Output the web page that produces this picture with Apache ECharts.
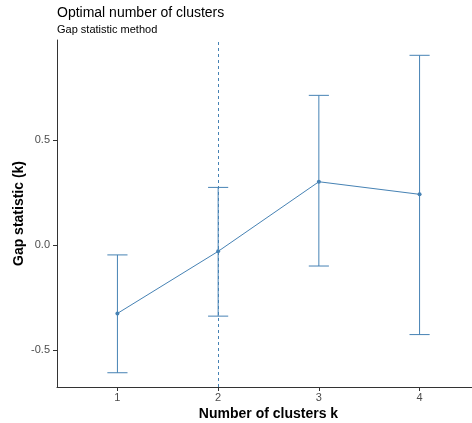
<!DOCTYPE html>
<html>
<head>
<meta charset="utf-8">
<script src="https://cdn.jsdelivr.net/npm/echarts@6/dist/echarts.min.js"></script>
<style>html,body{margin:0;padding:0;background:#fff;overflow:hidden}#c{width:472px;height:423px}</style>
</head>
<body>
<div id="c"></div>
<script>
var clusters = [1, 2, 3, 4];
var gapValues = [-0.325, -0.029, 0.303, 0.243];
var gapLower = [-0.608, -0.338, -0.099, -0.426];
var gapUpper = [-0.046, 0.276, 0.715, 0.906];
var yTicks = [-0.5, 0.0, 0.5];
var optimalK = 2;

var color = '#4682B4';
var font = 'Liberation Sans, Arial, sans-serif';

var lineData = clusters.map(function (k, i) { return [k, gapValues[i]]; });
var errData = clusters.map(function (k, i) { return [k, gapLower[i], gapUpper[i]]; });

var chart = echarts.init(document.getElementById('c'), null, {renderer: 'canvas'});
chart.setOption({
  animation: false,
  backgroundColor: '#fff',
  textStyle: {fontFamily: font},
  title: [
    {text: 'Optimal number of clusters', left: 57, top: 6, padding: 0,
     textStyle: {fontSize: 14, fontWeight: 'normal', color: '#000', fontFamily: font}},
    {text: 'Gap statistic method', left: 57, top: 24, padding: 0,
     textStyle: {fontSize: 11, fontWeight: 'normal', color: '#000', fontFamily: font}}
  ],
  grid: {left: 57, top: 40, width: 423, bottom: 36, containLabel: false, outerBoundsMode: 'none'},
  xAxis: {
    type: 'value', min: 0.4, max: 4.6,
    name: 'Number of clusters k', nameLocation: 'middle', nameGap: 20, nameMoveOverlap: false,
    nameTextStyle: {fontSize: 14, fontWeight: 'bold', color: '#000', fontFamily: font},
    axisLine: {onZero: false, lineStyle: {color: '#333', width: 1}},
    axisTick: {show: true, length: 4, customValues: clusters, lineStyle: {color: '#333'}},
    axisLabel: {customValues: clusters, fontSize: 11, color: '#4d4d4d', margin: 5, fontFamily: font},
    splitLine: {show: false}
  },
  yAxis: {
    type: 'value', min: -0.676, max: 0.979,
    name: 'Gap statistic (k)', nameLocation: 'middle', nameGap: 31, nameRotate: 90, nameMoveOverlap: false,
    nameTextStyle: {fontSize: 14, fontWeight: 'bold', color: '#000', fontFamily: font},
    axisLine: {show: true, onZero: false, lineStyle: {color: '#333', width: 1}},
    axisTick: {show: true, length: 4, customValues: yTicks, lineStyle: {color: '#333'}},
    axisLabel: {customValues: yTicks, fontSize: 11, color: '#4d4d4d', margin: 7, fontFamily: font,
      formatter: function (v) { return v.toFixed(1); }},
    splitLine: {show: false}
  },
  series: [
    {
      type: 'custom',
      data: errData,
      renderItem: function (params, api) {
        var x = api.value(0), lo = api.value(1), hi = api.value(2);
        var pLo = api.coord([x, lo]), pHi = api.coord([x, hi]);
        var cL = api.coord([x - 0.1, lo]), cR = api.coord([x + 0.1, lo]);
        var hw = (cR[0] - cL[0]) / 2;
        var st = {stroke: color, lineWidth: 1, fill: null};
        return {type: 'group', children: [
          {type: 'line', shape: {x1: pLo[0], y1: pLo[1], x2: pHi[0], y2: pHi[1]}, style: st},
          {type: 'line', shape: {x1: pLo[0] - hw, y1: pLo[1], x2: pLo[0] + hw, y2: pLo[1]}, style: st},
          {type: 'line', shape: {x1: pHi[0] - hw, y1: pHi[1], x2: pHi[0] + hw, y2: pHi[1]}, style: st}
        ]};
      },
      z: 2
    },
    {
      type: 'line',
      data: lineData,
      symbol: 'circle', symbolSize: 4,
      lineStyle: {color: color, width: 1},
      itemStyle: {color: color},
      z: 3,
      markLine: {
        silent: true, symbol: 'none', label: {show: false},
        lineStyle: {color: color, type: [3, 3], width: 1},
        data: [{xAxis: optimalK}]
      }
    }
  ]
});
</script>
</body>
</html>
